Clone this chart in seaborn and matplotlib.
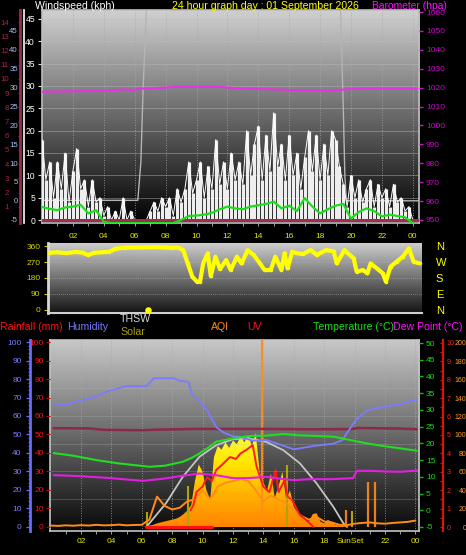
import numpy as np
import matplotlib
matplotlib.use("Agg")
import matplotlib.pyplot as plt
from matplotlib.colors import LinearSegmentedColormap
import seaborn as sns

sns.set_theme(style="dark")
plt.rcParams['font.family'] = ['Liberation Sans', 'DejaVu Sans']
plt.rcParams['axes.unicode_minus'] = False

# ---------------- data: wind / barometer panel ----------------
gust_hours = np.arange(97) * 0.25
gust = [18, 9, 13, 5, 13,
        7, 15, 4, 11,   16, 7, 9, 3,   9, 4, 5, 1,   3, 0, 2, 0,
        5, 0, 2, 0,     0, 0, 0, 2,    4, 2, 5, 3,   5, 1, 7, 4,
        7, 13, 6, 9,    13, 5, 12, 7,  18, 8, 13, 7, 15, 9, 13, 8,
        20, 10, 17, 21, 9, 19, 11, 24, 12, 17, 9, 19, 10, 15, 7, 14,
        20, 11, 19, 9,  17, 10, 20, 18, 12, 8, 3, 10, 5, 9, 4, 7,
        9, 3, 8, 5,     7, 3, 8, 4,    5, 2, 3, 0]

avg_hours = np.arange(49) * 0.5
avg_wind = [2.9, 2.5, 2.2, 2.8, 3.0, 3.4, 1.5, 2.2, -0.4, -0.7, -0.7, -0.7,
            -0.7, -0.7, -0.7, -0.7, -0.7, -0.7, 0.0, 0.9, 1.0, 1.2, 1.6, 2.4,
            3.0, 2.6, 2.4, 3.0, 3.3, 3.6, 4.1, 2.6, 3.2, 2.0, 4.9, 3.0,
            1.5, 2.4, 3.2, 3.6, 0.3, 1.8, 2.6, 2.0, 0.8, 1.2, 0.9, 0.6, -0.7]

daylight_hours = [0, 6.2, 6.4, 6.55, 6.8, 19.3, 19.5, 19.6, 19.7, 24.4]
daylight = [4.4, 4.4, 13, 30, 50, 50, 25, 10, 4.3, 4.3]

rain_rate_hours = [0, 24.4]
rain_rate = [0, 0]

baro_hours = [0, 2, 4, 5.5, 5.9, 6.2, 7.2, 9, 11.3, 12.4, 14.8, 16.7, 18.8, 19.7, 21, 24.3]
baro = [1017.8, 1018.1, 1018.4, 1019.1, 1018.6, 1019.4, 1019.8, 1020.5, 1020.5,
        1019.8, 1019.1, 1018.6, 1018.5, 1019.1, 1019.6, 1019.5]

kph_ticks = list(range(0, 50, 5))
baro_ticks = list(range(950, 1070, 10))
beaufort_ticks = list(range(1, 15))
mph_ticks = list(range(-5, 50, 5))
hour_ticks = list(range(2, 25, 2))
hour_labels = ["02", "04", "06", "08", "10", "12", "14", "16", "18", "20", "22", "00"]

# ---------------- data: wind direction ----------------
dir_hours = [0.1, 0.6, 1.2, 1.8, 2.3, 2.6, 3.0, 3.5, 4.0, 4.4, 5.0, 6.0, 7.0, 8.0, 8.5,
             8.8, 9.1, 9.4, 9.7, 9.9, 10.1, 10.4, 10.6, 10.9, 11.2, 11.6, 11.9, 12.3,
             12.6, 13.0, 13.4, 13.8, 14.1, 14.5, 14.8, 15.2, 15.4, 15.6, 15.9, 16.2,
             16.6, 17.1, 17.5, 18.1, 18.6, 18.8, 19.3, 19.9, 20.1, 20.5, 20.8, 21.0,
             21.4, 21.8, 22.0, 22.3, 22.7, 23.1, 23.5, 23.8, 24.2]
wind_dir = [322, 325, 320, 327, 322, 309, 322, 325, 328, 345, 351, 352, 354, 351, 350,
            337, 262, 187, 159, 159, 262, 319, 190, 300, 230, 281, 225, 300, 262, 337,
            309, 262, 225, 225, 300, 225, 319, 234, 328, 320, 315, 337, 310, 337, 330,
            262, 337, 290, 215, 225, 206, 262, 235, 206, 159, 244, 272, 300, 347, 272, 262]
calm_hours = [6.5]
calm_dir = [0]
dir_ticks = [0, 90, 180, 270, 360]
compass = ["N", "E", "S", "W", "N"]

# ---------------- data: temperature / humidity / solar panel ----------------
hum_hours = [0.2, 1.3, 1.4, 2.6, 3.9, 5.0, 6.3, 6.8, 8.1, 8.5, 9.06, 9.3, 9.8, 10.3, 10.9,
             11.4, 12.0, 12.5, 13.3, 14.2, 15.3, 16.0, 17.5, 18.6, 19.2, 19.5, 20.1, 20.8,
             21.9, 23.0, 24.1]
humidity = [66.5, 66.5, 67.4, 69.5, 73.7, 76.2, 76.2, 80.4, 80.4, 79, 78.5, 72, 67.7, 63,
            54, 51, 49, 48.8, 46.6, 47, 44, 42, 44, 45, 47, 50.8, 58, 63, 65, 66.5, 69]

temp_hours = [0.2, 1.5, 3.0, 4.5, 5.5, 6.5, 7.5, 8.7, 9.3, 9.8, 10.4, 10.9, 12.0, 13.1,
              14.2, 15.3, 16.4, 17.5, 18.6, 19.7, 20.8, 21.9, 23.0, 24.1]
temperature = [17.1, 16.3, 15.0, 14.0, 13.5, 13.0, 13.3, 14.5, 15.7, 17.0, 18.8, 20.5,
               21.5, 22.2, 22.3, 22.8, 22.4, 22.2, 22.0, 21.0, 20.0, 19.2, 18.5, 17.8]

dew_hours = [0.2, 2.0, 4.0, 5.5, 6.1, 7.5, 8.5, 9.8, 11.0, 12.0, 13.0, 14.2, 15.0, 16.0,
             17.0, 18.5, 19.9, 20.15, 21.0, 22.0, 23.0, 24.1]
dew_point = [10.5, 10.2, 9.6, 9.0, 8.8, 9.5, 10.2, 11.0, 10.4, 9.6, 9.6, 10.0, 9.5, 9.0,
             9.3, 9.3, 9.6, 11.8, 11.8, 11.6, 11.5, 11.9]

thsw_hours = [0.2, 2.5, 3.5, 6.0, 7.0, 9.5, 12, 14, 17, 19.8, 20.2, 23.0, 24.1]
thsw = [53.4, 53.3, 52.5, 52.3, 52.6, 53.0, 53.0, 53.0, 52.8, 52.9, 53.5, 53.2, 52.8]

solar_hours = 6 + np.arange(57) * 0.25
solar = [0, 2, 8, 12, 20, 25, 30, 35, 40, 45, 55, 70, 90, 120, 250, 340, 300, 200, 150,
         380, 440, 420, 460, 430, 470, 450, 490, 460, 500, 440, 510, 300, 240, 200, 290,
         160, 220, 300, 150, 200, 110, 80, 60, 40, 30, 70, 75, 30, 20, 40, 25, 12, 8, 5,
         2, 0, 0]
solar_max_hours = [6.3, 7.6, 8.7, 9.8, 10.9, 12.0, 13.0, 14.2, 15.3, 16.4, 17.5, 18.6, 19.25, 19.5]
solar_max = [0, 130, 273, 382, 445, 477, 482, 462, 418, 346, 237, 110, 22, 0]
solar_spike_hours = [6.35, 9.05, 15.55, 19.8]
solar_spikes = [83, 225, 337, 85]

aqi_hours = np.arange(49) * 0.5
aqi = [1.6, 1.2, 1.8, 1.4, 2, 1.6, 2.4, 1.8, 2, 2.6, 1.8, 2.2, 2.4, 8, 33, 23, 19, 21,
       28, 30, 40, 30, 44, 48, 50, 52, 50, 40, 28, 34, 30, 26, 18, 12, 8, 11, 6, 5,
       2.4, 2, 3.6, 4.4, 5, 4, 3.6, 4.4, 5, 5.6, 7]
aqi_spike_hours = [13.9, 19.45, 20.9, 21.35]
aqi_spikes = [250, 18, 49, 49]

uv_hours = [9.2, 9.4, 9.6, 10.0, 10.3, 10.6, 10.9, 11.3, 11.8, 12.2, 12.5, 12.9, 13.3,
            13.55, 13.99, 14.4, 14.8, 15.0, 15.4, 15.6, 15.9, 16.4, 16.7, 17.3]
uv = [0.9, 1.2, 1.9, 2.2, 2.7, 2.5, 3.1, 3.4, 3.8, 3.7, 4.0, 4.2, 4.45, 3.3, 2.2, 1.9,
      3.1, 1.9, 2.55, 1.65, 1.45, 0.65, 0.47, 0]
uv_zero_hours = [6.3, 10.6]
uv_zero = [0, 0]

pct_ticks = list(range(0, 101, 10))
temp_ticks = list(range(-5, 51, 5))
uv_ticks = list(range(0, 11))
aqi_ticks = list(range(0, 201, 20))
bottom_ticks = [2, 4, 6, 8, 10, 12, 14, 16, 18, 19.75, 22, 24]
bottom_labels = ["02", "04", "06", "08", "10", "12", "14", "16", "18", "SunSet", "22", "00"]

# ---------------- figure ----------------
W, H = 466, 555
fig = plt.figure(figsize=(W / 100, H / 100), dpi=100, facecolor="black")


def box(l, t, r, b):
    return [l / W, 1 - b / H, (r - l) / W, (b - t) / H]


def shade(ax, top, bottom):
    cmap = LinearSegmentedColormap.from_list("bg", [bottom, top])
    ax.imshow(np.linspace(0, 1, 256).reshape(-1, 1), cmap=cmap, aspect="auto",
              extent=[0, 1, 0, 1], origin="lower", transform=ax.transAxes, zorder=0)


def bare(ax):
    ax.set_facecolor("none")
    for s in ax.spines.values():
        s.set_visible(False)
    ax.grid(False)


def thin_axis(x, top, bottom, lo, hi):
    a = fig.add_axes(box(x, top, x + 1, bottom))
    bare(a)
    a.set_xticks([])
    a.set_ylim(lo, hi)
    return a


def px(x, y):
    return x / W, 1 - y / H


# ===== panel 1: windspeed + barometer =====
ax1 = fig.add_axes(box(42, 10, 419, 223))
bare(ax1)
shade(ax1, "#d0d0d0", "#000000")
for v in kph_ticks[1:]:
    ax1.axhline(v, color="#bcbcbc", lw=0.6, alpha=0.5, zorder=1)
for h in hour_ticks:
    ax1.axvline(h, color="#a8a8a8", lw=0.6, ls=(0, (1, 2)), zorder=1)

ax1.vlines(gust_hours, 0, gust, color="#eeeeee", lw=2.3, zorder=3)
sns.lineplot(x=gust_hours, y=gust, ax=ax1, color="white", lw=0.7, zorder=3)
sns.lineplot(x=daylight_hours, y=daylight, ax=ax1, color="#b4b4b4", lw=1.0, zorder=2)
sns.lineplot(x=rain_rate_hours, y=rain_rate, ax=ax1, color="#a02c52", lw=2.2, zorder=4)
sns.lineplot(x=avg_hours, y=avg_wind, ax=ax1, color="#18e018", lw=1.6, zorder=5)

ax1.set_xlim(0, 24.4)
ax1.set_ylim(-0.67, 47.0)
ax1.set_yticks(kph_ticks)
ax1.set_xticks(hour_ticks)
ax1.set_xticklabels(hour_labels)
ax1.set_xticks(np.arange(1, 25, 2), minor=True)
ax1.tick_params(axis="y", left=True, length=3, width=0.8, color="#e0e0e0",
                labelcolor="white", labelsize=6.2, pad=2)
ax1.tick_params(axis="x", which="both", bottom=True, length=2, width=0.7, color="#a0a0a0",
                labelcolor="#e6e600", labelsize=6, pad=5)
for s in ["left", "top", "right", "bottom"]:
    ax1.spines[s].set_visible(True)
    ax1.spines[s].set_color("#bdbdbd")
    ax1.spines[s].set_linewidth(1.2)

ax1r = ax1.twinx()
bare(ax1r)
sns.lineplot(x=baro_hours, y=baro, ax=ax1r, color="#e632e6", lw=1.5)
ax1r.set_ylim(948.4, 1061.1)
ax1r.set_yticks(baro_ticks)
ax1r.set_ylabel("")
ax1r.tick_params(axis="y", right=True, length=3, width=1, color="#c020c0",
                 labelcolor="#d000d0", labelsize=6, pad=2)

# left side extra scales
axc = thin_axis(20, 10, 223, -0.14, 14.85)
axc.spines["left"].set_visible(True)
axc.spines["left"].set_color("#a0284e")
axc.spines["left"].set_linewidth(2)
axc.set_yticks(beaufort_ticks)
axc.tick_params(axis="y", left=True, length=1.5, width=0.8, color="#a0284e",
                labelcolor="#b02050", labelsize=5.6, pad=6.5)
axm = thin_axis(20, 10, 223, -5.8, 50.3)
axm.set_yticks(mph_ticks)
axm.tick_params(axis="y", left=False, length=0, labelcolor="#a8c0f0", labelsize=5.6, pad=1.6)
axw = thin_axis(24, 10, 223, 0, 1)
axw.set_yticks([])
axw.spines["left"].set_visible(True)
axw.spines["left"].set_color("#e8e8e8")
axw.spines["left"].set_linewidth(1.3)

# ===== panel 2: wind direction =====
ax2 = fig.add_axes(box(48, 243, 422, 313))
bare(ax2)
shade(ax2, "#cdcdcd", "#141414")
for v in dir_ticks[1:-1]:
    ax2.axhline(v, color="#b8b8b8", lw=0.6, ls=(0, (1, 1.5)), alpha=0.7, zorder=1)
sns.lineplot(x=dir_hours, y=wind_dir, ax=ax2, color="#ffff00", lw=3, marker="o",
             markersize=2.5, markeredgewidth=0, zorder=3)
sns.scatterplot(x=calm_hours, y=calm_dir, ax=ax2, color="#ffff00", s=22, linewidth=0, zorder=4)
ax2.set_xlim(0, 24.35)
ax2.set_ylim(-17, 377)
ax2.set_xticks([])
ax2.set_yticks(dir_ticks)
ax2.tick_params(axis="y", left=True, length=3, width=0.8, color="#c8c800",
                labelcolor="#d4d400", labelsize=6, pad=2.5)
ax2.spines["left"].set_visible(True)
ax2.spines["left"].set_color("#d8d8d8")
ax2.spines["left"].set_linewidth(2)
ax2.spines["bottom"].set_visible(True)
ax2.spines["bottom"].set_color("#cfcfcf")
ax2.spines["bottom"].set_linewidth(1.5)
ax2r = ax2.twinx()
bare(ax2r)
ax2r.set_ylim(-17, 377)
ax2r.set_yticks(dir_ticks)
ax2r.set_yticklabels(compass)
ax2r.tick_params(axis="y", right=False, length=0, labelcolor="#ffff00", labelsize=8, pad=10)

# ===== legend row =====
legend_items = [("Rainfall (mm)", 0, 327, "#ff1010"), ("Humidity", 67, 327, "#7878ff"),
                ("THSW", 120, 319, "#d8d8d8"), ("Solar", 120, 332, "#a8a000"),
                ("AQI", 211, 327, "#ff8c1a"), ("UV", 247, 327, "#ff1010"),
                ("Temperature (°C)", 313, 327, "#10e010"), ("Dew Point (°C)", 393, 327, "#ff10ff")]
for label, x, y, c in legend_items:
    fig.text(*px(x, y), label, color=c, fontsize=7.6, ha="left", va="center")

# ===== panel 3: temperature, humidity, solar =====
ax3 = fig.add_axes(box(50, 340, 419, 531))
bare(ax3)
shade(ax3, "#c8c8c8", "#080808")
for h in hour_ticks:
    ax3.axvline(h, color="#a8a8a8", lw=0.6, ls=(0, (1, 2)), zorder=1)
sol_poly = ax3.fill_between(solar_hours, 0, solar, color="none", lw=0)
sol_cmap = LinearSegmentedColormap.from_list("sol", ["#ff8400", "#ffb000", "#ffe600", "#ffff40"])
im = ax3.imshow(np.linspace(0, 1, 256).reshape(-1, 1), cmap=sol_cmap, aspect="auto",
                extent=[0, 24.3, 0, 520], origin="lower", zorder=2)
im.set_clip_path(sol_poly.get_paths()[0], transform=ax3.transData)
ax3.vlines(solar_spike_hours, 0, solar_spikes, color="#b0a400", lw=1.5, zorder=3)
sns.lineplot(x=solar_max_hours, y=solar_max, ax=ax3, color="#c4c4c4", lw=1.3, zorder=3)
ax3.set_xlim(-0.04, 24.24)
ax3.set_ylim(-21.7, 1016)
ax3.set_yticks([])
ax3.set_xticks(bottom_ticks)
ax3.set_xticklabels(bottom_labels)
ax3.set_xticks(np.arange(1, 25, 2), minor=True)
ax3.tick_params(axis="x", which="both", bottom=True, length=2, width=0.7, color="#a0a0a0",
                labelcolor="#e6e600", labelsize=6, pad=3)
for s in ["left", "top", "right", "bottom"]:
    ax3.spines[s].set_visible(True)
    ax3.spines[s].set_color("#c4c4c4")
    ax3.spines[s].set_linewidth(1.2)

ax3a = ax3.twinx()
bare(ax3a)
ax3a.vlines(aqi_spike_hours, 0, aqi_spikes, color="#ff8c1a", lw=1.6, alpha=0.9)
sns.lineplot(x=aqi_hours, y=aqi, ax=ax3a, color="#ff8c1a", lw=1.4)
ax3a.set_ylim(-4.34, 203.2)
ax3a.set_yticks([])
ax3a.set_ylabel("")

ax3u = ax3.twinx()
bare(ax3u)
sns.lineplot(x=uv_zero_hours, y=uv_zero, ax=ax3u, color="#ff1010", lw=2.2)
sns.lineplot(x=uv_hours, y=uv, ax=ax3u, color="#ff1a1a", lw=1.4)
ax3u.set_ylim(-0.217, 10.16)
ax3u.set_yticks([])
ax3u.set_ylabel("")

ax3h = ax3.twinx()
bare(ax3h)
sns.lineplot(x=thsw_hours, y=thsw, ax=ax3h, color="#8c2848", lw=1.8)
sns.lineplot(x=hum_hours, y=humidity, ax=ax3h, color="#7b7bff", lw=1.3)
for v in range(15, 100, 15):
    ax3h.axhline(v, color="#c0c0c0", lw=0.5, alpha=0.35, zorder=0)
ax3h.set_ylim(-2.2, 101.1)
ax3h.yaxis.tick_left()
ax3h.set_yticks(pct_ticks)
ax3h.set_ylabel("")
ax3h.tick_params(axis="y", left=True, right=False, length=3, width=0.8, color="#c00000",
                 labelcolor="#ff1010", labelsize=6, pad=1.5)

ax3t = ax3.twinx()
bare(ax3t)
sns.lineplot(x=temp_hours, y=temperature, ax=ax3t, color="#22dd22", lw=1.5)
sns.lineplot(x=dew_hours, y=dew_point, ax=ax3t, color="#e020e0", lw=1.5)
ax3t.set_ylim(-6.2, 50.9)
ax3t.set_yticks(temp_ticks)
ax3t.set_ylabel("")
ax3t.tick_params(axis="y", right=True, length=3, width=1, color="#10c010",
                 labelcolor="#10e010", labelsize=6, pad=2)

# humidity scale on far left
axh = thin_axis(30, 340, 531, -2.2, 101.1)
axh.spines["left"].set_visible(True)
axh.spines["left"].set_color("#6a6aff")
axh.spines["left"].set_linewidth(2)
axh.set_yticks(pct_ticks)
axh.set_yticks(range(0, 101, 2), minor=True)
axh.tick_params(axis="y", which="major", left=True, length=3, width=0.9, color="#6a6aff",
                labelcolor="#7b7bff", labelsize=6, pad=3)
axh.tick_params(axis="y", which="minor", left=True, length=1.5, width=0.6, color="#6a6aff")

# UV / AQI scale on far right
axu = thin_axis(443, 340, 531, -0.217, 10.16)
axu.spines["left"].set_visible(True)
axu.spines["left"].set_color("#e01010")
axu.spines["left"].set_linewidth(1.6)
axu.set_yticks(uv_ticks)
axu.set_yticks(np.arange(0, 10.2, 0.5), minor=True)
axu.tick_params(axis="y", which="both", left=True, right=False, labelleft=False,
                labelright=True, length=2, width=0.8, color="#e01010",
                labelcolor="#ff2020", labelsize=5.1, pad=0)
axq = thin_axis(443, 340, 531, -4.34, 203.2)
axq.set_yticks(aqi_ticks)
axq.tick_params(axis="y", left=False, right=False, labelleft=False, labelright=True,
                length=0, labelcolor="#ff9a20", labelsize=5.0, pad=16)
for t in axq.get_yticklabels():
    t.set_horizontalalignment("right")

# ===== title row =====
fig.text(*px(35, 6), "Windspeed (kph)", color="white", fontsize=7.6, ha="left", va="center")
fig.text(*px(172, 6), "24 hour graph day : 01 September 2026", color="#ffff00",
         fontsize=7.6, ha="left", va="center")
fig.text(*px(372, 6), "Barometer (hpa)", color="#ff10ff", fontsize=7.4, ha="left", va="center")

fig.savefig("out.png", dpi=100, facecolor="black")
